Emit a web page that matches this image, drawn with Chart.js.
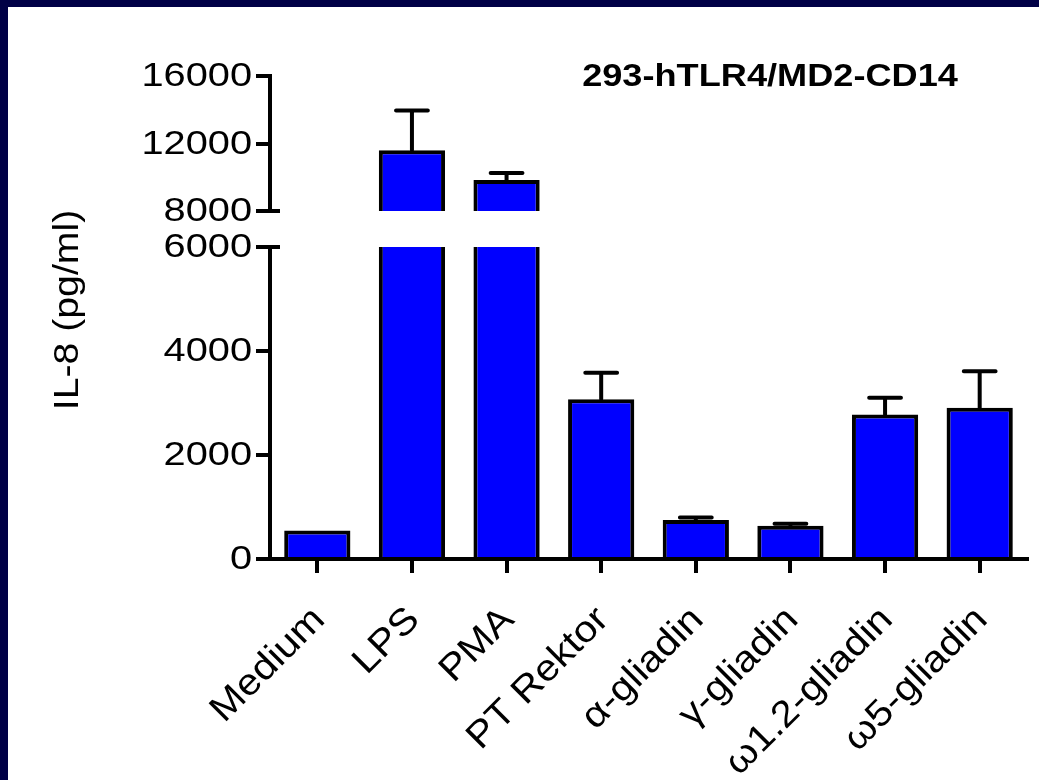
<!DOCTYPE html>
<html>
<head>
<meta charset="utf-8">
<script src="https://cdn.jsdelivr.net/npm/chart.js@4.4.0/dist/chart.umd.min.js"></script>
<style>
    html, body { margin: 0; padding: 0; background: #000046; overflow: hidden; }
    #panel { position: absolute; left: 8px; top: 7px; width: 1031px; height: 773px; background: #fff; }
    canvas { position: absolute; left: 0; top: 0; }
</style>
</head>
<body>
<div id="panel"></div>
<canvas id="upperChart" width="1039" height="780"></canvas>
<canvas id="lowerChart" width="1039" height="780"></canvas>
<script>
// --- DATA ---
const categories = ['Medium', 'LPS', 'PMA', 'PT Rektor', '\u03b1-gliadin', '\u03b3-gliadin', '\u03c91.2-gliadin', '\u03c95-gliadin'];
const means = [550, 11600, 9830, 3070, 750, 640, 2780, 2910];
const errors = [0, 2350, 420, 510, 50, 40, 320, 700];
const upperTicks = [8000, 12000, 16000];
const lowerTicks = [0, 2000, 4000, 6000];
const chartTitle = '293-hTLR4/MD2-CD14';
const yTitle = 'IL-8 (pg/ml)';

// text in this figure is wide, so draw it stretched along its own direction
function wideText(ctx, text, x, y, o) {
    ctx.save();
    ctx.translate(x, y);
    if (o.rotate) ctx.rotate(o.rotate);
    ctx.scale(o.sx, 1);
    ctx.font = o.font;
    ctx.fillStyle = '#000';
    ctx.textAlign = o.align || 'left';
    ctx.textBaseline = o.baseline || 'middle';
    ctx.fillText(text, 0, 0);
    ctx.restore();
}

const errorBars = {
    id: 'errorBars',
    afterDatasetsDraw(chart) {
        const ctx = chart.ctx, area = chart.chartArea, y = chart.scales.y;
        const meta = chart.getDatasetMeta(0);
        ctx.save();
        ctx.beginPath();
        ctx.rect(area.left, area.top - 2, area.right - area.left, area.bottom - area.top + 2);
        ctx.clip();
        ctx.strokeStyle = '#000';
        ctx.lineWidth = 4;
        ctx.lineCap = 'round';
        meta.data.forEach((bar, i) => {
            if (!errors[i]) return;
            const top = y.getPixelForValue(means[i]);
            const hi = y.getPixelForValue(means[i] + errors[i]);
            const half = bar.width * 0.24;
            ctx.beginPath();
            ctx.moveTo(bar.x, top);
            ctx.lineTo(bar.x, hi);
            ctx.moveTo(bar.x - half, hi);
            ctx.lineTo(bar.x + half, hi);
            ctx.stroke();
        });
        ctx.restore();
    }
};

const axisText = {
    id: 'axisText',
    afterDraw(chart, args, opts) {
        const ctx = chart.ctx, y = chart.scales.y, x = chart.scales.x;
        // y tick labels
        y.ticks.forEach(t => {
            wideText(ctx, String(t.value), y.right - 18, y.getPixelForValue(t.value) + 1,
                { font: '34px "Liberation Sans", Arial', sx: 1.17, align: 'right' });
        });
        // axis break mark
        const by = y.getPixelForValue(opts.breakAt);
        ctx.save();
        ctx.strokeStyle = '#000';
        ctx.lineWidth = 4;
        ctx.beginPath();
        ctx.moveTo(y.right - 14, by);
        ctx.lineTo(y.right + 10, by);
        ctx.stroke();
        ctx.restore();
        if (opts.labels) {
            categories.forEach((c, i) => {
                wideText(ctx, c, x.getPixelForTick(i) + 2, x.top + 55,
                    { font: '37px "Liberation Sans", Arial', sx: 1.1, align: 'right', rotate: -Math.PI / 4 });
            });
            wideText(ctx, yTitle, 68, 310,
                { font: '35px "Liberation Sans", Arial', sx: 1.12, align: 'center', rotate: -Math.PI / 2 });
        }
        if (opts.title) {
            wideText(ctx, chartTitle, 770, 77,
                { font: 'bold 32px "Liberation Sans", Arial', sx: 1.13, align: 'center' });
        }
    }
};

function segmentChart(id, seg) {
    return new Chart(document.getElementById(id), {
        type: 'bar',
        data: {
            labels: categories,
            datasets: [{
                data: means,
                backgroundColor: '#0000ff',
                borderColor: '#000',
                borderWidth: 4,
                borderSkipped: 'start',
                categoryPercentage: 0.7,
                barPercentage: 1,
                clip: 0
            }]
        },
        options: {
            responsive: false,
            animation: false,
            layout: { padding: seg.padding },
            plugins: {
                legend: { display: false },
                tooltip: { enabled: false },
                axisText: seg.text
            },
            scales: {
                x: {
                    display: seg.showX,
                    offset: true,
                    grid: { offset: false, drawOnChartArea: false, tickLength: 14, lineWidth: 4, color: '#000' },
                    border: { width: 4, color: '#000' },
                    ticks: { color: 'rgba(0,0,0,0)', maxRotation: 0, autoSkip: false },
                    afterFit: s => { s.height = seg.xHeight; }
                },
                y: {
                    min: seg.ticks[0],
                    max: seg.ticks[seg.ticks.length - 1],
                    afterBuildTicks: s => { s.ticks = seg.ticks.map(v => ({ value: v })); },
                    grid: { drawOnChartArea: false, tickLength: 14, lineWidth: 4, color: '#000' },
                    border: { width: 4, color: '#000' },
                    ticks: { color: 'rgba(0,0,0,0)' },
                    afterFit: s => { s.width = 270; }
                }
            }
        },
        plugins: [errorBars, axisText]
    });
}

segmentChart('upperChart', {
    ticks: upperTicks,
    showX: false,
    xHeight: 0,
    padding: { left: 0, top: 76, right: 12, bottom: 569 },
    text: { breakAt: upperTicks[0], title: true }
});

segmentChart('lowerChart', {
    ticks: lowerTicks,
    showX: true,
    xHeight: 221,
    padding: { left: 0, top: 247, right: 12, bottom: 0 },
    text: { breakAt: lowerTicks[lowerTicks.length - 1], labels: true }
});
</script>
</body>
</html>
